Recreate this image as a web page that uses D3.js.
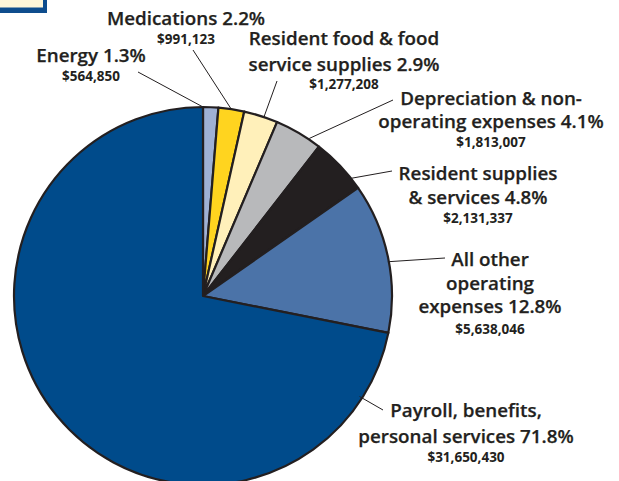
<!DOCTYPE html>
<html><head><meta charset="utf-8">
<script src="https://cdn.jsdelivr.net/npm/d3@7"></script>
<style>html,body{margin:0;padding:0;background:#fff;}svg{display:block;}</style>
</head><body>
<script>
// ---- data ----
const categories = ["Energy", "Medications", "Resident food & food service supplies",
  "Depreciation & non-operating expenses", "Resident supplies & services",
  "All other operating expenses", "Payroll, benefits, personal services"];
const percents = [1.3, 2.2, 2.9, 4.1, 4.8, 12.8, 71.8];
const amounts = ["$564,850", "$991,123", "$1,277,208", "$1,813,007", "$2,131,337", "$5,638,046", "$31,650,430"];
const labelLines = [
  ["Energy 1.3%"],
  ["Medications 2.2%"],
  ["Resident food & food", "service supplies 2.9%"],
  ["Depreciation & non-", "operating expenses 4.1%"],
  ["Resident supplies", "& services 4.8%"],
  ["All other", "operating", "expenses 12.8%"],
  ["Payroll, benefits,", "personal services 71.8%"]
];

// ---- layout / style ----
const W = 619, H = 481;
const cx = 203, cy = 296, R = 189;
const colors = ["#9fb1d4", "#ffd41f", "#fff0ba", "#b8b9bb", "#231f20", "#4b73a8", "#004b8b"];
const ink = "#231f20";
// label layout: center x, first baseline y, line step, value baseline y
const labelLayout = [
  {x: 91,  y: 62,  step: 0,  vy: 81},
  {x: 186, y: 25,  step: 0,  vy: 44},
  {x: 344, y: 45,  step: 26, vy: 88.5},
  {x: 491, y: 105, step: 23, vy: 147},
  {x: 478, y: 180, step: 24, vy: 223},
  {x: 490, y: 266, step: 23.5, vy: 334},
  {x: 466, y: 417, step: 26, vy: 462}
];
// leader lines: angle (deg clockwise from 12 o'clock) on the rim, outer end point
const leaders = [
  {a: 0,    r: 189, x: 138, y: 72},
  {a: 8.6,  r: 189, x: 193, y: 50},
  {a: 18.8, r: 189, x: 277, y: 81},
  {a: 34,   r: 190, x: 393, y: 100},
  {a: 51,   r: 186, x: 392, y: 171},
  {a: 79.5, r: 188, x: 445, y: 258},
  {a: 122.7,r: 186, x: 383, y: 410}
];

const svg = d3.select("body").append("svg").attr("width", W).attr("height", H);

// top-left box fragment
svg.append("rect").attr("x", -10).attr("y", -10).attr("width", 57).attr("height", 23).attr("fill", "#0e4d8d");
svg.append("rect").attr("x", -10).attr("y", -10).attr("width", 53).attr("height", 17.5).attr("fill", "#fef6d9");

const pie = d3.pie().sort(null).value(d => d)(percents);
const arc = d3.arc().innerRadius(0).outerRadius(R);

const g = svg.append("g").attr("transform", `translate(${cx},${cy})`);
g.selectAll("path").data(pie).join("path")
  .attr("d", arc)
  .attr("fill", (d, i) => colors[i])
  .attr("stroke", ink).attr("stroke-width", 2.2).attr("stroke-linejoin", "round");

// leader lines
svg.selectAll("line.leader").data(leaders).join("line").attr("class", "leader")
  .attr("x1", d => cx + d.r * Math.sin(d.a * Math.PI / 180))
  .attr("y1", d => cy - d.r * Math.cos(d.a * Math.PI / 180))
  .attr("x2", d => d.x).attr("y2", d => d.y)
  .attr("stroke", ink).attr("stroke-width", 1);

// labels
const fontFam = "'Open Sans', sans-serif";
categories.forEach((c, i) => {
  const L = labelLayout[i];
  const t = svg.append("text").attr("text-anchor", "middle").attr("fill", ink)
    .attr("font-family", fontFam).attr("font-weight", 600).attr("font-size", 18.8)
    .attr("stroke", ink).attr("stroke-width", 0.25);
  labelLines[i].forEach((ln, j) => {
    t.append("tspan").attr("x", L.x).attr("y", L.y + j * L.step).text(ln);
  });
  svg.append("text").attr("text-anchor", "middle").attr("fill", ink)
    .attr("font-family", fontFam).attr("font-weight", 700).attr("font-size", 13.5)
    .attr("x", L.x).attr("y", L.vy).text(amounts[i]);
});
</script>
</body></html>
